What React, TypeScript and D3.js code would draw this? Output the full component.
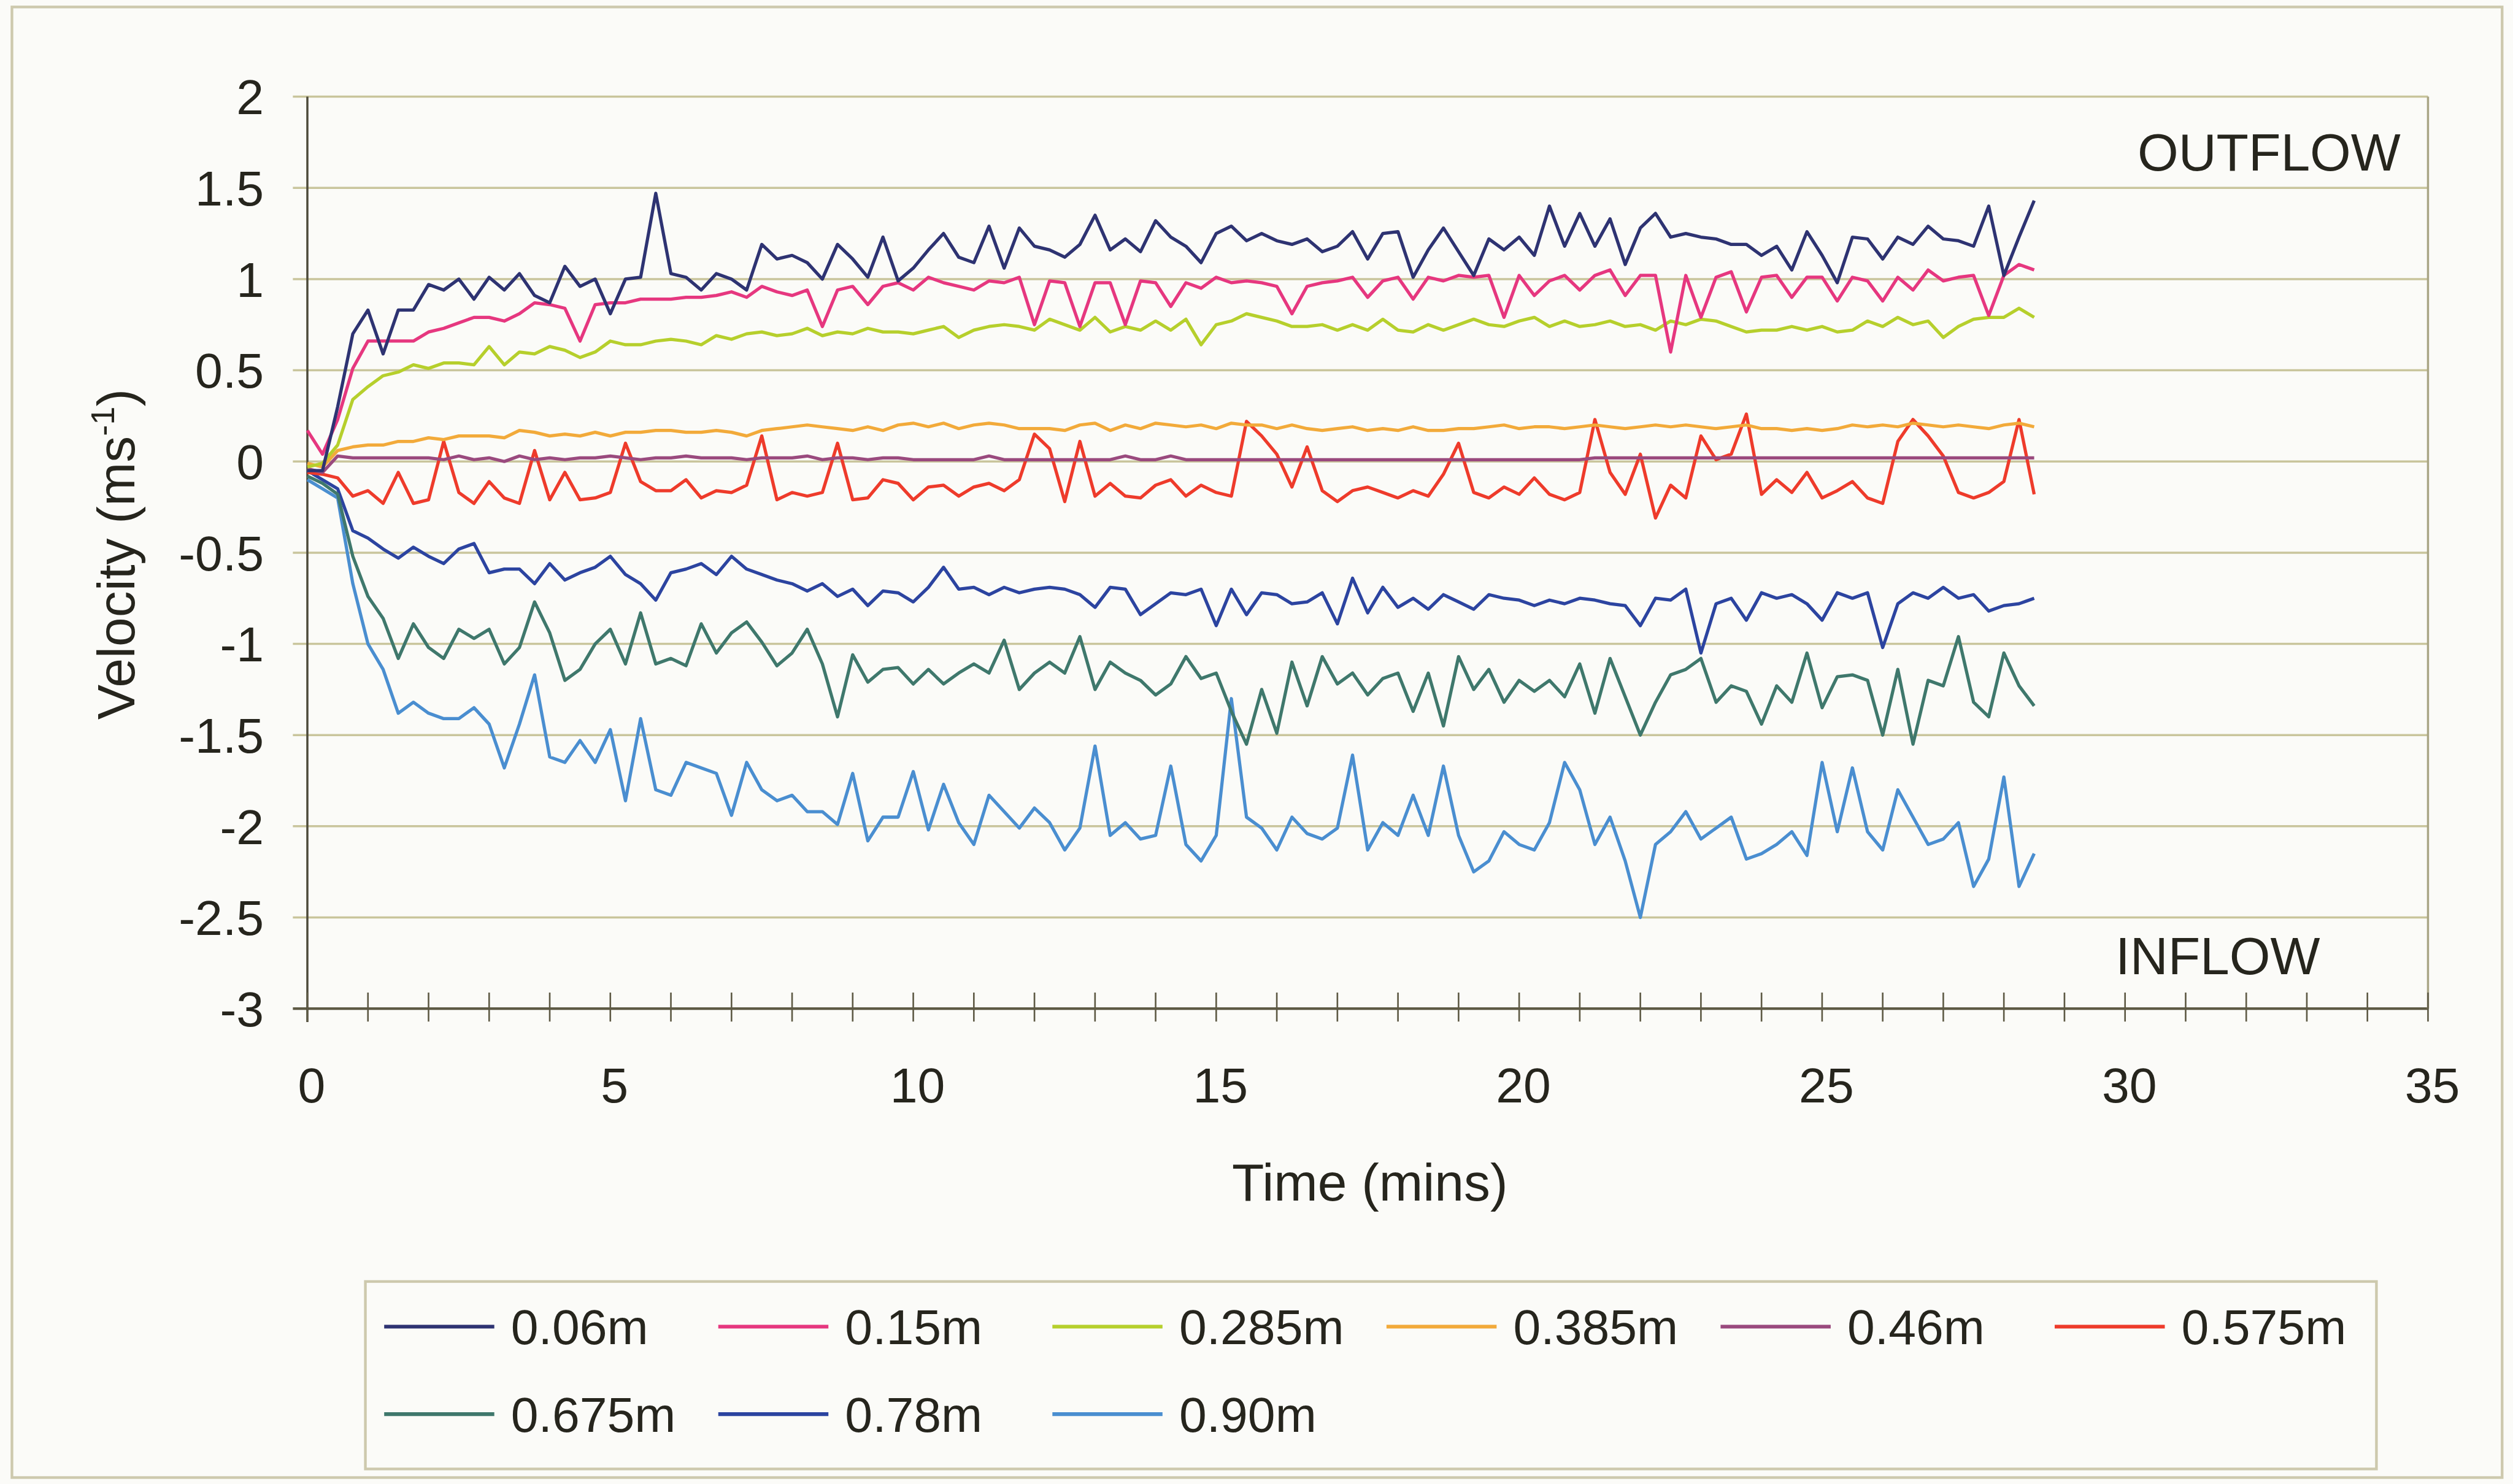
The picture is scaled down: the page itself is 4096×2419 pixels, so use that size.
import * as React from 'react';
import * as d3 from 'd3';

// sampling grid (minutes) shared by every depth
const times = d3.range(0, 28.51, 0.25);

const s006 = [
	-0.05, -0.05, 0.30, 0.70, 0.83, 0.59, 0.83, 0.83, 0.97, 0.94, 1.00, 0.89, 1.01, 0.94, 1.03, 0.91, 0.87, 1.07, 0.96, 1.00,
	0.81, 1.00, 1.01, 1.47, 1.03, 1.01, 0.94, 1.03, 1.00, 0.94, 1.19, 1.11, 1.13, 1.09, 1.00, 1.19, 1.11, 1.01, 1.23,
	0.99, 1.06, 1.16, 1.25, 1.12, 1.09, 1.29, 1.06, 1.28, 1.18, 1.16, 1.12, 1.19, 1.35, 1.16, 1.22, 1.15, 1.32, 1.23, 1.18,
	1.09, 1.25, 1.29, 1.21, 1.25, 1.21, 1.19, 1.22, 1.15, 1.18, 1.26, 1.11, 1.25, 1.26, 1.01, 1.16, 1.28, 1.15, 1.02,
	1.22, 1.16, 1.23, 1.13, 1.40, 1.18, 1.36, 1.18, 1.33, 1.08, 1.28, 1.36, 1.23, 1.25, 1.23, 1.22, 1.19, 1.19, 1.13, 1.18,
	1.05, 1.26, 1.13, 0.98, 1.23, 1.22, 1.11, 1.23, 1.19, 1.29, 1.22, 1.21, 1.18, 1.40, 1.02, 1.23, 1.43,
];
const s015 = [
	0.17, 0.04, 0.23, 0.51, 0.66, 0.66, 0.66, 0.66, 0.71, 0.73, 0.76, 0.79, 0.79, 0.77, 0.81, 0.87, 0.86, 0.84, 0.66, 0.86,
	0.87, 0.87, 0.89, 0.89, 0.89, 0.90, 0.90, 0.91, 0.93, 0.90, 0.96, 0.93, 0.91, 0.94, 0.74, 0.94, 0.96, 0.86, 0.96,
	0.98, 0.94, 1.01, 0.98, 0.96, 0.94, 0.99, 0.98, 1.01, 0.75, 0.99, 0.98, 0.74, 0.98, 0.98, 0.75, 0.99, 0.98, 0.85, 0.98,
	0.95, 1.01, 0.98, 0.99, 0.98, 0.96, 0.81, 0.96, 0.98, 0.99, 1.01, 0.90, 0.99, 1.01, 0.89, 1.01, 0.99, 1.02, 1.01,
	1.02, 0.79, 1.02, 0.91, 0.99, 1.02, 0.94, 1.02, 1.05, 0.91, 1.02, 1.02, 0.60, 1.02, 0.79, 1.01, 1.04, 0.82, 1.01, 1.02,
	0.90, 1.01, 1.01, 0.88, 1.01, 0.99, 0.88, 1.01, 0.94, 1.05, 0.99, 1.01, 1.02, 0.80, 1.02, 1.08, 1.05,
];
const s0285 = [
	-0.03, -0.01, 0.09, 0.34, 0.41, 0.47, 0.49, 0.53, 0.51, 0.54, 0.54, 0.53, 0.63, 0.53, 0.60, 0.59, 0.63, 0.61, 0.57, 0.60,
	0.66, 0.64, 0.64, 0.66, 0.67, 0.66, 0.64, 0.69, 0.67, 0.70, 0.71, 0.69, 0.70, 0.73, 0.69, 0.71, 0.70, 0.73, 0.71,
	0.71, 0.70, 0.72, 0.74, 0.68, 0.72, 0.74, 0.75, 0.74, 0.72, 0.78, 0.75, 0.72, 0.79, 0.71, 0.74, 0.72, 0.77, 0.72, 0.78,
	0.64, 0.75, 0.77, 0.81, 0.79, 0.77, 0.74, 0.74, 0.75, 0.72, 0.75, 0.72, 0.78, 0.72, 0.71, 0.75, 0.72, 0.75, 0.78,
	0.75, 0.74, 0.77, 0.79, 0.74, 0.77, 0.74, 0.75, 0.77, 0.74, 0.75, 0.72, 0.77, 0.75, 0.78, 0.77, 0.74, 0.71, 0.72, 0.72,
	0.74, 0.72, 0.74, 0.71, 0.72, 0.77, 0.74, 0.79, 0.75, 0.77, 0.68, 0.74, 0.78, 0.79, 0.79, 0.84, 0.79,
];
const s0385 = [
	-0.01, -0.03, 0.06, 0.08, 0.09, 0.09, 0.11, 0.11, 0.13, 0.12, 0.14, 0.14, 0.14, 0.13, 0.17, 0.16, 0.14, 0.15, 0.14, 0.16,
	0.14, 0.16, 0.16, 0.17, 0.17, 0.16, 0.16, 0.17, 0.16, 0.14, 0.17, 0.18, 0.19, 0.20, 0.19, 0.18, 0.17, 0.19, 0.17,
	0.20, 0.21, 0.19, 0.21, 0.18, 0.20, 0.21, 0.20, 0.18, 0.18, 0.18, 0.17, 0.20, 0.21, 0.17, 0.20, 0.18, 0.21, 0.20, 0.19,
	0.20, 0.18, 0.21, 0.20, 0.20, 0.18, 0.20, 0.18, 0.17, 0.18, 0.19, 0.17, 0.18, 0.17, 0.19, 0.17, 0.17, 0.18, 0.18,
	0.19, 0.20, 0.18, 0.19, 0.19, 0.18, 0.19, 0.20, 0.19, 0.18, 0.19, 0.20, 0.19, 0.20, 0.19, 0.18, 0.19, 0.20, 0.18, 0.18,
	0.17, 0.18, 0.17, 0.18, 0.20, 0.19, 0.20, 0.19, 0.21, 0.20, 0.19, 0.20, 0.19, 0.18, 0.20, 0.21, 0.19,
];
const s046 = [
	-0.04, -0.06, 0.03, 0.02, 0.02, 0.02, 0.02, 0.02, 0.02, 0.01, 0.03, 0.01, 0.02, 0.00, 0.03, 0.01, 0.02, 0.01, 0.02, 0.02,
	0.03, 0.02, 0.01, 0.02, 0.02, 0.03, 0.02, 0.02, 0.02, 0.01, 0.02, 0.02, 0.02, 0.03, 0.01, 0.02, 0.02, 0.01, 0.02,
	0.02, 0.01, 0.01, 0.01, 0.01, 0.01, 0.03, 0.01, 0.01, 0.01, 0.01, 0.01, 0.01, 0.01, 0.01, 0.03, 0.01, 0.01, 0.03, 0.01,
	0.01, 0.01, 0.01, 0.01, 0.01, 0.01, 0.01, 0.01, 0.01, 0.01, 0.01, 0.01, 0.01, 0.01, 0.01, 0.01, 0.01, 0.01, 0.01,
	0.01, 0.01, 0.01, 0.01, 0.01, 0.01, 0.01, 0.02, 0.02, 0.02, 0.02, 0.02, 0.02, 0.02, 0.02, 0.02, 0.02, 0.02, 0.02, 0.02,
	0.02, 0.02, 0.02, 0.02, 0.02, 0.02, 0.02, 0.02, 0.02, 0.02, 0.02, 0.02, 0.02, 0.02, 0.02, 0.02, 0.02,
];
const s0575 = [
	-0.06, -0.07, -0.09, -0.19, -0.16, -0.23, -0.06, -0.23, -0.21, 0.11, -0.17, -0.23, -0.11, -0.20, -0.23, 0.06, -0.21, -0.06, -0.21, -0.20,
	-0.17, 0.10, -0.11, -0.16, -0.16, -0.10, -0.20, -0.16, -0.17, -0.13, 0.14, -0.21, -0.17, -0.19, -0.17, 0.10, -0.21, -0.20, -0.10,
	-0.12, -0.21, -0.14, -0.13, -0.19, -0.14, -0.12, -0.16, -0.10, 0.15, 0.07, -0.22, 0.11, -0.19, -0.12, -0.19, -0.20, -0.13, -0.10, -0.19,
	-0.13, -0.17, -0.19, 0.22, 0.14, 0.04, -0.14, 0.08, -0.16, -0.22, -0.16, -0.14, -0.17, -0.20, -0.16, -0.19, -0.07, 0.10, -0.17,
	-0.20, -0.14, -0.18, -0.09, -0.18, -0.21, -0.17, 0.23, -0.06, -0.18, 0.04, -0.31, -0.13, -0.20, 0.14, 0.01, 0.04, 0.26, -0.18, -0.10,
	-0.17, -0.06, -0.20, -0.16, -0.11, -0.20, -0.23, 0.11, 0.23, 0.14, 0.03, -0.17, -0.20, -0.17, -0.11, 0.23, -0.18,
];
const s0675 = [
	-0.08, -0.12, -0.18, -0.52, -0.74, -0.86, -1.08, -0.89, -1.02, -1.08, -0.92, -0.97, -0.92, -1.11, -1.02, -0.77, -0.94, -1.20, -1.14, -1.00,
	-0.92, -1.11, -0.83, -1.11, -1.08, -1.12, -0.89, -1.05, -0.94, -0.88, -0.99, -1.12, -1.05, -0.92, -1.11, -1.40, -1.06, -1.21, -1.14,
	-1.13, -1.22, -1.14, -1.22, -1.16, -1.11, -1.16, -0.98, -1.25, -1.16, -1.10, -1.16, -0.96, -1.25, -1.10, -1.16, -1.20, -1.28, -1.22, -1.07,
	-1.19, -1.16, -1.37, -1.55, -1.25, -1.49, -1.10, -1.34, -1.07, -1.22, -1.16, -1.28, -1.19, -1.16, -1.37, -1.16, -1.45, -1.07, -1.25,
	-1.14, -1.32, -1.20, -1.26, -1.20, -1.29, -1.11, -1.38, -1.08, -1.29, -1.50, -1.32, -1.17, -1.14, -1.08, -1.32, -1.23, -1.26, -1.44, -1.23,
	-1.32, -1.05, -1.35, -1.18, -1.17, -1.20, -1.50, -1.14, -1.55, -1.20, -1.23, -0.96, -1.32, -1.40, -1.05, -1.23, -1.34,
];
const s078 = [
	-0.05, -0.10, -0.15, -0.38, -0.42, -0.48, -0.53, -0.47, -0.52, -0.56, -0.48, -0.45, -0.61, -0.59, -0.59, -0.67, -0.56, -0.65, -0.61, -0.58,
	-0.52, -0.62, -0.67, -0.76, -0.61, -0.59, -0.56, -0.62, -0.52, -0.59, -0.62, -0.65, -0.67, -0.71, -0.67, -0.74, -0.70, -0.79, -0.71,
	-0.72, -0.77, -0.69, -0.58, -0.70, -0.69, -0.73, -0.69, -0.72, -0.70, -0.69, -0.70, -0.73, -0.80, -0.69, -0.70, -0.84, -0.78, -0.72, -0.73,
	-0.70, -0.90, -0.70, -0.84, -0.72, -0.73, -0.78, -0.77, -0.72, -0.89, -0.64, -0.83, -0.69, -0.80, -0.75, -0.81, -0.73, -0.77, -0.81,
	-0.73, -0.75, -0.76, -0.79, -0.76, -0.78, -0.75, -0.76, -0.78, -0.79, -0.90, -0.75, -0.76, -0.70, -1.05, -0.78, -0.75, -0.87, -0.72, -0.75,
	-0.73, -0.78, -0.87, -0.72, -0.75, -0.72, -1.02, -0.78, -0.72, -0.75, -0.69, -0.75, -0.73, -0.82, -0.79, -0.78, -0.75,
];
const s090 = [
	-0.10, -0.15, -0.20, -0.67, -1.00, -1.14, -1.38, -1.32, -1.38, -1.41, -1.41, -1.35, -1.44, -1.68, -1.44, -1.17, -1.62, -1.65, -1.53, -1.65,
	-1.47, -1.86, -1.41, -1.80, -1.83, -1.65, -1.68, -1.71, -1.94, -1.65, -1.80, -1.86, -1.83, -1.92, -1.92, -1.99, -1.71, -2.08, -1.95,
	-1.95, -1.70, -2.02, -1.77, -1.98, -2.10, -1.83, -1.92, -2.01, -1.90, -1.98, -2.13, -2.01, -1.56, -2.05, -1.98, -2.07, -2.05, -1.67, -2.10,
	-2.19, -2.05, -1.30, -1.95, -2.01, -2.13, -1.95, -2.04, -2.07, -2.01, -1.61, -2.13, -1.98, -2.05, -1.83, -2.05, -1.67, -2.05, -2.25,
	-2.19, -2.03, -2.10, -2.13, -1.98, -1.65, -1.80, -2.10, -1.95, -2.19, -2.50, -2.10, -2.03, -1.92, -2.07, -2.01, -1.95, -2.18, -2.15, -2.10,
	-2.03, -2.16, -1.65, -2.03, -1.68, -2.03, -2.13, -1.80, -1.95, -2.10, -2.07, -1.98, -2.33, -2.18, -1.73, -2.33, -2.15,
];

const seriesNames = ['0.06m', '0.15m', '0.285m', '0.385m', '0.46m', '0.575m', '0.675m', '0.78m', '0.90m'];
const seriesValues = [s006, s015, s0285, s0385, s046, s0575, s0675, s078, s090];
const seriesColors = ['#2e3372', '#e6377f', '#b6cf2c', '#f2aa3a', '#9a4a7e', '#ee3b2b', '#3f786c', '#2c44a0', '#4a8ed0'];

const yTicks = d3.range(-3, 2.01, 0.5);
const xTicks = d3.range(0, 35.1, 5);
const xMinor = d3.range(0, 35.1, 1);

// everything below is laid out in reference pixels, the viewBox does the 0.875 scaling
const W = 4678;
const H = 2763;
const FONT = '"Liberation Sans", Arial, sans-serif';
const INK = '#26251d';
const GRID = '#c9c59c';

const x = d3.scaleLinear().domain([0, 35]).range([572, 4520]);
const y = d3.scaleLinear().domain([-3, 2]).range([1878, 180]);

const line = d3.line<number>()
	.x((d, i) => x(times[i]))
	.y(d => y(d));

const App = () => {
	const left = x(0), right = x(35), top = y(2), bottom = y(-3);
	return (
		<svg
			width={4096}
			height={2419}
			viewBox={`0 0 ${W} ${H}`}
			style={{position: 'absolute', left: 0, top: 0, display: 'block', background: '#fbfbf8'}}
			fontFamily={FONT}
		>
			<rect x={0} y={0} width={W} height={H} fill="#fbfbf8"/>
			<rect x={22} y={13} width={4636} height={2738} fill="none" stroke="#cdc9ad" strokeWidth={5}/>

			{/* grid + y ticks */}
			{yTicks.map(v => (
				<line key={'g' + v} x1={left - 27} x2={right} y1={y(v)} y2={y(v)}
					stroke={v === -3 ? '#5e5a45' : GRID} strokeWidth={v === -3 ? 5 : 4}/>
			))}
			<line x1={right} x2={right} y1={top} y2={bottom} stroke="#a9a585" strokeWidth={4}/>
			<line x1={left} x2={left} y1={top} y2={bottom + 25} stroke="#4d4a3a" strokeWidth={4}/>
			{xMinor.map(v => (
				<line key={'t' + v} x1={x(v)} x2={x(v)} y1={bottom - 30} y2={bottom + 24} stroke="#5e5a45" strokeWidth={3}/>
			))}

			{yTicks.map(v => (
				<text key={'yl' + v} x={491} y={y(v) + 33} textAnchor="end" fontSize={92} fill={INK}>{String(v)}</text>
			))}
			{xTicks.map(v => (
				<text key={'xl' + v} x={x(v) + 8} y={2052} textAnchor="middle" fontSize={92} fill={INK}>{String(v)}</text>
			))}

			<text x={2550} y={2235} textAnchor="middle" fontSize={98} fill={INK}>Time (mins)</text>
			<text transform="translate(250,1032) rotate(-90)" textAnchor="middle" fontSize={98} fill={INK}>
				Velocity (ms<tspan dy={-38} fontSize={62}>-1</tspan><tspan dy={38}>)</tspan>
			</text>

			<text x={4469} y={317} textAnchor="end" fontSize={98} fill={INK}>OUTFLOW</text>
			<text x={4319} y={1814} textAnchor="end" fontSize={98} fill={INK}>INFLOW</text>

			{/* series, drawn deepest first so the shallow ones sit on top */}
			{seriesValues.map((vals, i) => (
				<path key={'s' + i} d={line(vals) || ''} fill="none" stroke={seriesColors[i]}
					strokeWidth={6} strokeLinejoin="round"/>
			)).reverse()}

			{/* legend */}
			<rect x={680} y={2386} width={3744} height={349} fill="#fbfbf8" stroke="#cdc9ad" strokeWidth={5}/>
			{seriesNames.map((name, i) => {
				const col = i % 6, row = Math.floor(i / 6);
				const lx = 715 + col * 622;
				const ly = 2470 + row * 163;
				return (
					<g key={'lg' + i}>
						<line x1={lx} x2={lx + 205} y1={ly} y2={ly} stroke={seriesColors[i]} strokeWidth={7}/>
						<text x={lx + 236} y={ly + 33} fontSize={92} fill={INK}>{name}</text>
					</g>
				);
			})}
		</svg>
	);
};

export default App;
